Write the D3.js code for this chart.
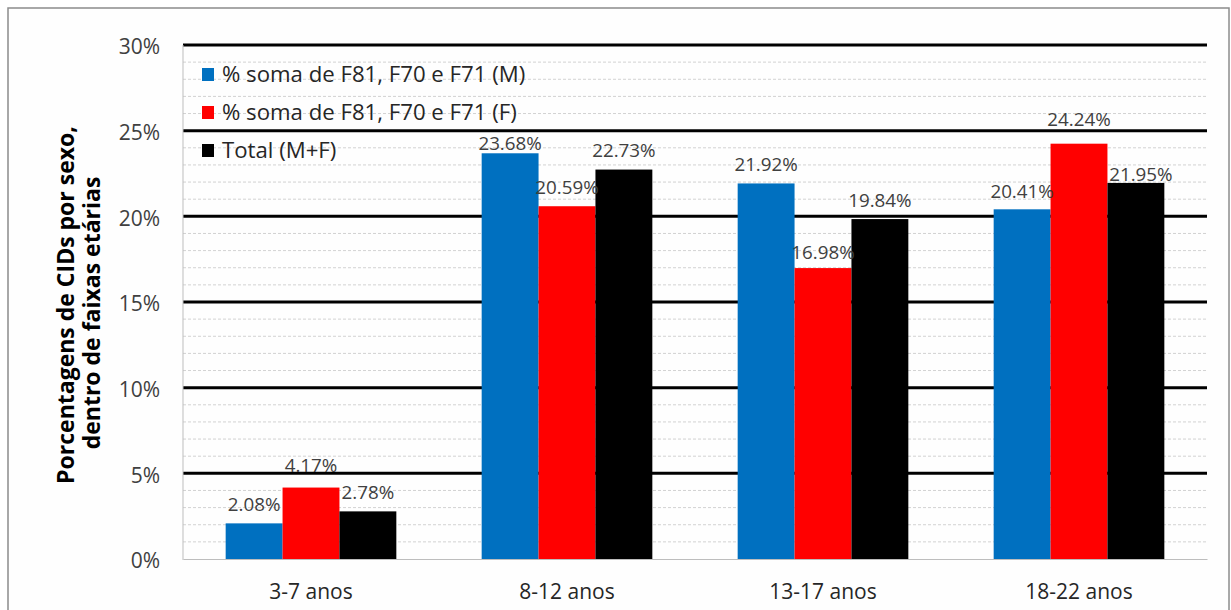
<!DOCTYPE html>
<html>
<head>
<meta charset="utf-8">
<script src="https://cdn.jsdelivr.net/npm/d3@7"></script>
<style>
  html, body { margin: 0; padding: 0; background: #fff; }
  svg { display: block; font-family: "Open Sans", "Noto Sans", sans-serif; }
</style>
</head>
<body>
<svg id="chart" width="1231" height="610"></svg>
<script>
// Age groups and percentage of CIDs (F81, F70, F71) per sex
const categories = ["3-7 anos", "8-12 anos", "13-17 anos", "18-22 anos"];
const seriesNames = ["% soma de F81, F70 e F71 (M)", "% soma de F81, F70 e F71 (F)", "Total (M+F)"];
const valuesM = [2.08, 23.68, 21.92, 20.41];
const valuesF = [4.17, 20.59, 16.98, 24.24];
const valuesTotal = [2.78, 22.73, 19.84, 21.95];
const seriesColors = ["#0070C0", "#FF0000", "#000000"];
const yTicks = [0, 5, 10, 15, 20, 25, 30];
const yMinorTicks = d3.range(1, 30).filter(v => v % 5 !== 0);
// Hand-placed label nudges (vertical, px) per series, per age group
const labelNudgeM = [0, 9, 0, 1];
const labelNudgeF = [-4, 0, 3, -6];
const labelNudgeTotal = [0, -1, 0, 10];
const labelShiftXTotal = [0, 0, 0, 5];

const seriesValues = [valuesM, valuesF, valuesTotal];
const seriesNudges = [labelNudgeM, labelNudgeF, labelNudgeTotal];

const svg = d3.select("#chart");
const W = 1231, H = 610;
const plot = { left: 183, right: 1207, top: 45, bottom: 559 };

// Outer chart frame
svg.append("rect")
  .attr("x", 8).attr("y", 8)
  .attr("width", W - 10).attr("height", H + 20)
  .attr("fill", "#fefefe")
  .attr("stroke", "#8c8c8c").attr("stroke-width", 1.5);

const x = d3.scaleBand().domain(categories).range([plot.left, plot.right]).paddingInner(0).paddingOuter(0);
const groupInner = x.bandwidth() * (3 / 4.5); // gap width 150% of a bar
const xs = d3.scaleBand().domain(d3.range(seriesNames.length))
  .range([(x.bandwidth() - groupInner) / 2, (x.bandwidth() + groupInner) / 2]);
const y = d3.scaleLinear().domain([0, 30]).range([plot.bottom, plot.top]);

// Minor gridlines (1% steps)
svg.append("g").selectAll("line").data(yMinorTicks).join("line")
  .attr("x1", plot.left).attr("x2", plot.right)
  .attr("y1", d => y(d)).attr("y2", d => y(d))
  .attr("stroke", "#d2d2d2").attr("stroke-width", 1)
  .attr("stroke-dasharray", "3,2");

// Major gridlines
svg.append("g").selectAll("line").data(yTicks.filter(v => v > 0)).join("line")
  .attr("x1", plot.left).attr("x2", plot.right)
  .attr("y1", d => y(d)).attr("y2", d => y(d))
  .attr("stroke", "#000").attr("stroke-width", 3);

// Left axis line
svg.append("line")
  .attr("x1", plot.left).attr("x2", plot.left)
  .attr("y1", plot.top).attr("y2", plot.bottom + 1)
  .attr("stroke", "#bdbdbd").attr("stroke-width", 1);

// Y axis tick labels
const yAxis = d3.axisLeft(y).tickValues(yTicks).tickFormat(d => d + "%").tickSize(0).tickPadding(23);
const yg = svg.append("g").attr("transform", `translate(${plot.left},0)`).call(yAxis);
yg.select(".domain").remove();
yg.selectAll("text")
  .attr("font-size", 21).attr("fill", "#404040")
  .attr("font-family", "Open Sans, sans-serif")
  .attr("dy", "0.42em");

// X axis labels
const xAxis = d3.axisBottom(x).tickSize(0).tickPadding(25);
const xg = svg.append("g").attr("transform", `translate(0,${plot.bottom})`).call(xAxis);
xg.select(".domain").attr("stroke", "#bdbdbd");
xg.selectAll("text")
  .attr("font-size", 21).attr("fill", "#262626")
  .attr("font-family", "Open Sans, sans-serif");

// Bars
const groups = svg.append("g").selectAll("g").data(categories).join("g")
  .attr("transform", d => `translate(${x(d)},0)`);

groups.each(function (cat, ci) {
  const g = d3.select(this);
  seriesValues.forEach((vals, si) => {
    const v = vals[ci];
    g.append("rect")
      .attr("x", xs(si)).attr("width", xs.bandwidth())
      .attr("y", y(v)).attr("height", y(0) - y(v))
      .attr("fill", seriesColors[si]);
  });
});

// Value labels
groups.each(function (cat, ci) {
  const g = d3.select(this);
  seriesValues.forEach((vals, si) => {
    const v = vals[ci];
    const dx = si === 2 ? labelShiftXTotal[ci] : 0;
    g.append("text")
      .attr("x", xs(si) + xs.bandwidth() / 2 + dx)
      .attr("y", y(v) - 12 + seriesNudges[si][ci])
      .attr("text-anchor", "middle")
      .attr("font-size", 18.8).attr("fill", "#404040")
      .text(v.toFixed(2) + "%");
  });
});

// Y axis title (two lines, rotated)
const title = svg.append("text")
  .attr("transform", "rotate(-90)")
  .attr("text-anchor", "middle")
  .attr("font-weight", "bold").attr("font-size", 23).attr("fill", "#000");
title.append("tspan").attr("x", -305).attr("y", 74).text("Porcentagens de CIDs por sexo,");
title.append("tspan").attr("x", -313).attr("y", 100).text("dentro de faixas etárias");

// Legend
const legend = svg.append("g").attr("transform", "translate(202,74.5)");
const items = legend.selectAll("g").data(seriesNames).join("g")
  .attr("transform", (d, i) => `translate(0,${i * 38})`);
items.append("rect")
  .attr("x", 0).attr("y", -6.5).attr("width", 12).attr("height", 13)
  .attr("fill", (d, i) => seriesColors[i]);
items.append("text")
  .attr("x", 20).attr("y", 0).attr("dy", "0.35em")
  .attr("font-size", 22.2).attr("fill", "#262626")
  .text(d => d);
</script>
</body>
</html>
